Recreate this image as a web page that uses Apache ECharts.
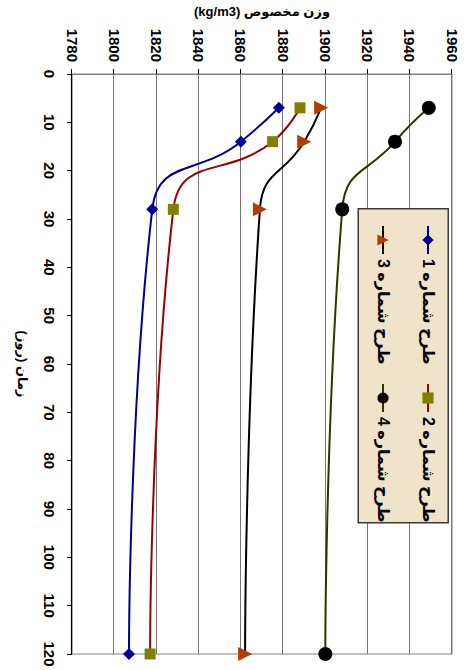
<!DOCTYPE html>
<html><head><meta charset="utf-8">
<script src="https://cdn.jsdelivr.net/npm/echarts@6/dist/echarts.min.js"></script>
<style>
html,body{margin:0;padding:0;width:469px;height:670px;overflow:hidden;background:#fff;}
#chart{position:absolute;left:0;top:0;width:670px;height:469px;transform-origin:0 0;transform:translateX(469px) rotate(90deg);}
</style></head><body><div id="chart"></div>
<script>
// Data (time in days, density in kg/m3)
const days = [7, 14, 28, 120];
const names = ['طرح شماره 1', 'طرح شماره 2', 'طرح شماره 3', 'طرح شماره 4'];
const mix1 = [1878, 1860, 1818, 1807];
const mix2 = [1888, 1875, 1828, 1817];
const mix3 = [1898, 1890, 1869, 1862];
const mix4 = [1949, 1933, 1908, 1900];
const timeAxisMin = 0, timeAxisMax = 120, timeAxisStep = 10;
const densAxisMin = 1780, densAxisMax = 1960, densAxisStep = 20;
const timeTitle = 'زمان (روز)\u200F';
const densTitle = '(kg/m3) وزن مخصوص';

const FONT = "'Liberation Sans', Arial, 'DejaVu Sans', sans-serif";
const pair = vals => days.map((d, i) => [d, vals[i]]);

const styles = [
  {line: '#000099', sym: 'diamond', symColor: '#000099', size: 12},
  {line: '#990000', sym: 'rect', symColor: '#808000', size: 11},
  {line: '#000000', sym: 'triangle', symColor: '#B33C00', size: 14},
  {line: '#333300', sym: 'circle', symColor: '#000000', size: 14}
];
const allVals = [mix1, mix2, mix3, mix4];

const series = allVals.map((v, i) => ({
  name: names[i],
  type: 'line',
  data: pair(v),
  smooth: 0.5,
  symbol: styles[i].sym,
  symbolSize: styles[i].size,
  lineStyle: {color: styles[i].line, width: 2},
  itemStyle: {color: styles[i].symColor, borderWidth: 0},
  z: 3
}));

const legendPos = [[225, 33], [383, 33], [225, 78], [383, 78]];
const legends = names.map((n, i) => ({
  data: [n],
  left: legendPos[i][0],
  top: legendPos[i][1],
  padding: 0,
  itemWidth: 28,
  itemHeight: 14,
  itemGap: 5,
  z: 10,
  textStyle: {fontFamily: FONT, fontSize: 16, fontWeight: 'bold', color: '#000'}
}));

const chart = echarts.init(document.getElementById('chart'), null, {renderer: 'svg'});
chart.setOption({
  backgroundColor: '#ffffff',
  animation: false,
  grid: {left: 74, right: 16, top: 17, bottom: 72, containLabel: false, outerBoundsMode: 'none',
         show: true, borderColor: '#808080', borderWidth: 1},
  xAxis: {
    type: 'value', min: timeAxisMin, max: timeAxisMax, interval: timeAxisStep,
    position: 'bottom',
    name: timeTitle, nameLocation: 'middle', nameGap: 43,
    nameTextStyle: {fontFamily: FONT, fontSize: 13, fontWeight: 'bold', color: '#000'},
    axisLine: {show: true, lineStyle: {color: '#000', width: 1.2}},
    axisTick: {show: true, length: 5, lineStyle: {color: '#000'}},
    axisLabel: {margin: 15, fontFamily: FONT, fontSize: 15, fontWeight: 'bold', color: '#000',
                formatter: v => String(v)},
    splitLine: {show: false}
  },
  yAxis: {
    type: 'value', min: densAxisMin, max: densAxisMax, interval: densAxisStep,
    name: densTitle, nameLocation: 'middle', nameGap: 53, nameRotate: 90,
    nameTextStyle: {fontFamily: FONT, fontSize: 13, fontWeight: 'bold', color: '#000'},
    axisLine: {show: true, lineStyle: {color: '#808080', width: 1.2}},
    axisTick: {show: true, length: 5, lineStyle: {color: '#000'}},
    axisLabel: {margin: 12, fontFamily: FONT, fontSize: 15, fontWeight: 'bold', color: '#000',
                formatter: v => String(v)},
    splitLine: {show: true, lineStyle: {color: '#777777', width: 1}}
  },
  legend: legends,
  graphic: [{
    type: 'rect', left: 208, top: 20, z: 8,
    shape: {width: 314, height: 90},
    style: {fill: '#EFE4C9', stroke: '#3a3a3a', lineWidth: 1.5}
  }],
  series: series
});
</script></body></html>
